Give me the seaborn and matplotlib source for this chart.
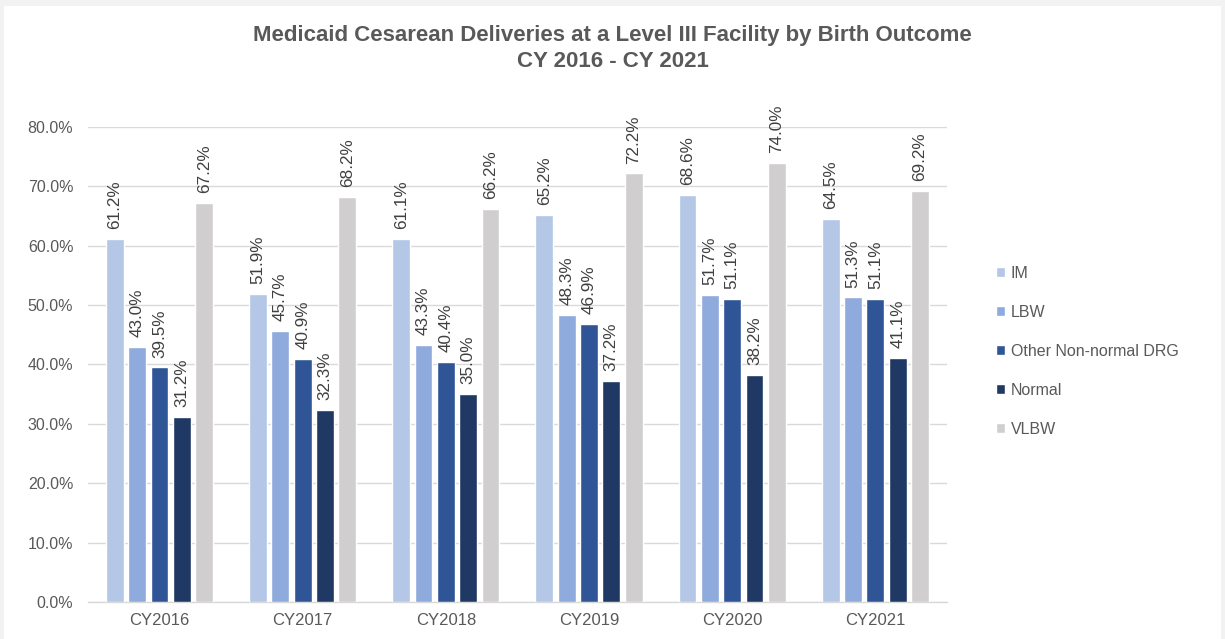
import matplotlib
matplotlib.use("Agg")
import matplotlib.pyplot as plt
import seaborn as sns
import pandas as pd
from matplotlib.patches import Rectangle
from matplotlib.ticker import PercentFormatter

years = ["CY2016", "CY2017", "CY2018", "CY2019", "CY2020", "CY2021"]
series = ["IM", "LBW", "Other Non-normal DRG", "Normal", "VLBW"]
im = [61.2, 51.9, 61.1, 65.2, 68.6, 64.5]
lbw = [43.0, 45.7, 43.3, 48.3, 51.7, 51.3]
other = [39.5, 40.9, 40.4, 46.9, 51.1, 51.1]
normal = [31.2, 32.3, 35.0, 37.2, 38.2, 41.1]
vlbw = [67.2, 68.2, 66.2, 72.2, 74.0, 69.2]
colors = ["#B4C7E7", "#8FAADC", "#2F5597", "#1F3864", "#D0CECE"]

values = [im, lbw, other, normal, vlbw]
rows = []
for s, vals in zip(series, values):
    for y, v in zip(years, vals):
        rows.append({"Year": y, "Outcome": s, "Value": v})
df = pd.DataFrame(rows)

sns.set_theme(style="white")
plt.rcParams["font.family"] = ["Liberation Sans", "DejaVu Sans"]

fig = plt.figure(figsize=(12.25, 6.39), dpi=100)
fig.patch.set_facecolor("#F2F2F2")
fig.patches.append(Rectangle((0.003, 0.0), 0.994, 0.99, transform=fig.transFigure,
                             facecolor="white", edgecolor="none", zorder=-10))
ax = fig.add_axes([0.0718, 0.0579, 0.7012, 0.7434])
ax.set_facecolor("none")

sns.barplot(data=df, x="Year", y="Value", hue="Outcome", order=years,
            hue_order=series, palette=colors, width=0.78, gap=0.2,
            saturation=1, ax=ax, legend=True, zorder=3)

for cont in ax.containers:
    ax.bar_label(cont, labels=[f"{v:.1f}%" for v in cont.datavalues],
                 rotation=90, padding=7, fontsize=12.3, color="#404040")

ax.set_ylim(0, 80)
ax.set_yticks(range(0, 81, 10))
ax.yaxis.set_major_formatter(PercentFormatter(decimals=1))
ax.grid(axis="y", color="#D9D9D9", linewidth=1, zorder=0)
ax.set_axisbelow(True)
for sp in ["top", "right", "left"]:
    ax.spines[sp].set_visible(False)
ax.spines["bottom"].set_color("#D9D9D9")
ax.spines["bottom"].set_linewidth(1)
ax.tick_params(axis="y", length=0, pad=10.5, labelsize=11.5, labelcolor="#595959")
ax.tick_params(axis="x", length=0, pad=8, labelsize=12, labelcolor="#595959")
ax.set_xlabel("")
ax.set_ylabel("")

leg = ax.legend(loc="center left", bbox_to_anchor=(1.04, 0.528), frameon=False,
                fontsize=11.5, handlelength=0.6, handleheight=0.6,
                handletextpad=0.35, labelspacing=1.5)
for t in leg.get_texts():
    t.set_color("#595959")

fig.text(0.5, 0.945, "Medicaid Cesarean Deliveries at a Level III Facility by Birth Outcome",
         ha="center", va="center", fontsize=16, fontweight="bold", color="#595959")
fig.text(0.5, 0.903, "CY 2016 - CY 2021", ha="center", va="center",
         fontsize=16, fontweight="bold", color="#595959")

fig.savefig("out.png", dpi=100, facecolor=fig.get_facecolor())
